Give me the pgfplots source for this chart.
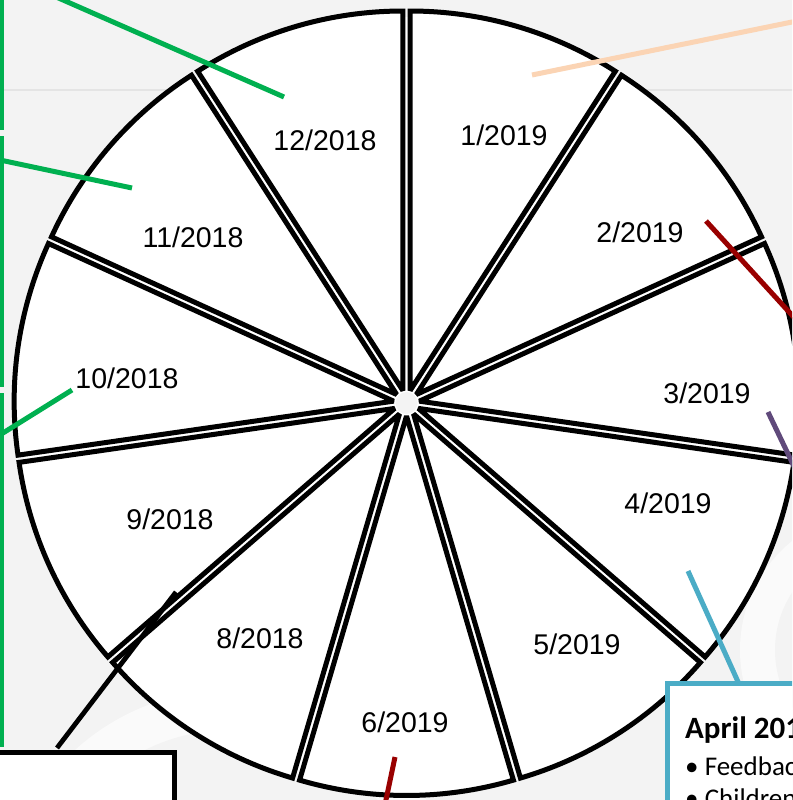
\documentclass[border=0pt]{standalone}
\usepackage{fontspec}
\setmainfont{Liberation Sans}
\newfontfamily\calibri{Carlito}
\usepackage{pgfplots}
\usepackage{pgfplotstable}
\pgfplotsset{compat=1.18}
\definecolor{bg}{HTML}{F3F3F3}
\definecolor{bgline}{HTML}{E4E4E4}
\definecolor{grn}{HTML}{00B050}
\definecolor{peach}{HTML}{FBD4B4}
\definecolor{dred}{HTML}{990000}
\definecolor{purp}{HTML}{604A7B}
\definecolor{tealc}{HTML}{4BACC6}

% eleven equal slices, clockwise from 12 o'clock; label positions
\pgfplotstableread{
label x y
1/2019 504 665
2/2019 640 568
3/2019 707 407
4/2019 668 297
5/2019 577 156
6/2019 405 78
8/2018 260 162
9/2018 170 281
10/2018 127 422
11/2018 193 563
12/2018 325 660
}\slices

\begin{document}
\begin{tikzpicture}
\begin{axis}[
  x=1pt, y=1pt, disabledatascaling,
  xmin=0, xmax=792, ymin=0, ymax=800,
  hide axis, clip=true,
]
% background
\fill[bg] (axis cs:-10,-10) rectangle (axis cs:810,810);
\draw[bgline, line width=2pt] (axis cs:-10,710) -- (axis cs:810,710);
% faint watermark
\fill[white, opacity=0.6] (axis cs:230,-120) circle[radius=230pt];
\fill[bg] (axis cs:230,-120) circle[radius=190pt];
\fill[white, opacity=0.6] (axis cs:880,150) circle[radius=140pt];
\fill[bg] (axis cs:880,150) circle[radius=105pt];

% white disc under the wheel
\fill[white] (axis cs:406.5,397) circle[radius=386pt];
\fill[bg] (axis cs:406.5,397) circle[radius=11pt];

% wedges
\pgfplotsinvokeforeach{0,...,10}{
  \draw[black, line width=5pt, fill=white, line join=miter, miter limit=2]
    (axis cs:406.5,397) ++({90-(#1+0.5)*360/11}:13pt)
    -- ++({90-(#1+1)*360/11}:379.5pt)
    arc[start angle={90-(#1+1)*360/11}, end angle={90-#1*360/11}, radius=379.5pt]
    -- cycle;
}

% slice labels
\addplot[draw=none, nodes near coords, point meta=explicit symbolic,
  every node near coord/.append style={anchor=center, inner sep=0pt,
    font=\fontsize{28.5}{34}\selectfont, text=black}]
  table[x=x, y=y, meta=label] {\slices};

% green boxes at the left edge
\draw[grn, line width=4.5pt, fill=white] (axis cs:-300,672) rectangle (axis cs:1.5,900);
\draw[grn, line width=4.5pt, fill=white] (axis cs:-300,415) rectangle (axis cs:1.5,662);
\draw[grn, line width=4.5pt, fill=white] (axis cs:-300,55) rectangle (axis cs:1.5,405);

% connector lines
\addplot[grn, line width=5pt] coordinates {(40,810.1) (284,703)};
\addplot[grn, line width=5pt] coordinates {(0,640) (132,612)};
\addplot[grn, line width=5pt] coordinates {(3,367) (72,410)};
\addplot[peach, line width=5pt] coordinates {(532,725) (800,779.6)};
\addplot[dred, line width=5pt] coordinates {(706,579) (800,476)};
\addplot[dred, line width=5pt] coordinates {(395,43) (384.5,-7)};
\addplot[purp, line width=5pt] coordinates {(768,388) (800,321)};
\addplot[tealc, line width=5pt] coordinates {(688,229) (739,116)};
\addplot[black, line width=4.8pt] coordinates {(57,52) (176,208)};

% bottom-left box
\draw[black, line width=5pt, fill=white] (axis cs:-50,-50) rectangle (axis cs:174.5,47);

% April box
\draw[tealc, line width=5pt, fill=white] (axis cs:667,-60) rectangle (axis cs:900,116);
\node[anchor=base west, inner sep=0pt, font=\calibri\bfseries\fontsize{31}{36}\selectfont]
  at (axis cs:685,61) {April 2019};
\node[anchor=base west, inner sep=0pt, font=\calibri\fontsize{27}{32}\selectfont]
  at (axis cs:685,24) {\textbullet\ Feedback from};
\node[anchor=base west, inner sep=0pt, font=\calibri\fontsize{27}{32}\selectfont]
  at (axis cs:685,-7) {\textbullet\ Children};
\end{axis}
\pgfresetboundingbox
\useasboundingbox (0,0) rectangle (792pt,800pt);
\end{tikzpicture}
\end{document}
